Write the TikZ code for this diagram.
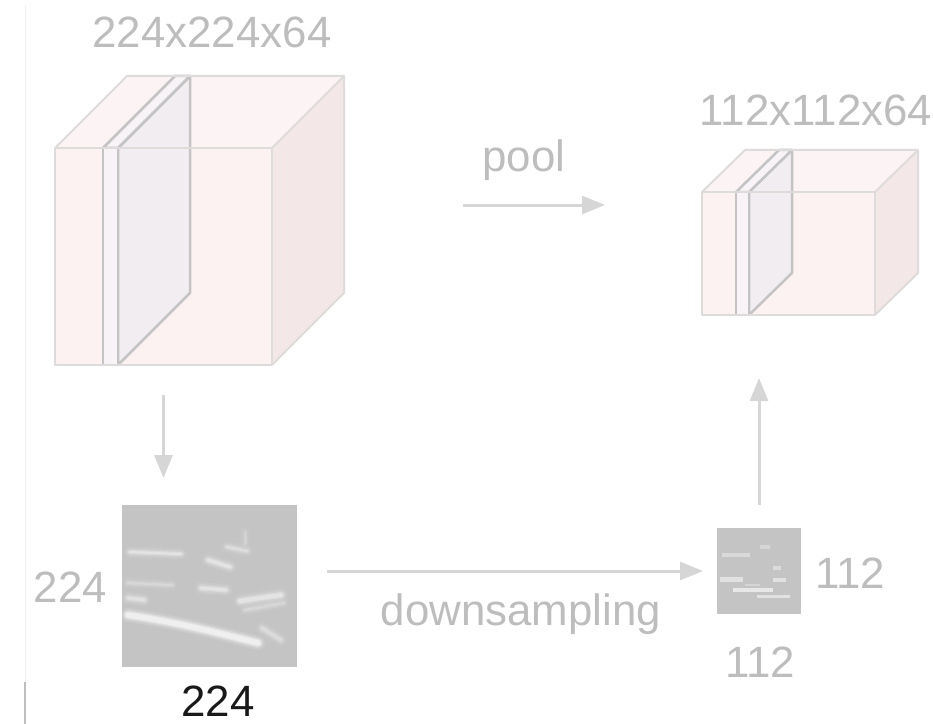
\documentclass[tikz,border=0pt]{standalone}
\usepackage{fontspec}
\setmainfont{Liberation Sans}
\usetikzlibrary{arrows.meta}

\definecolor{labelgrey}{HTML}{BDBDBD}
\definecolor{arrowgrey}{HTML}{D6D6D6}
\definecolor{edgegrey}{HTML}{DEDBDB}
\definecolor{slicegrey}{HTML}{C4C4C4}
\definecolor{facefront}{HTML}{FCF2F2}
\definecolor{facetop}{HTML}{FCF4F4}
\definecolor{faceside}{HTML}{F3E7E7}
\definecolor{slicefront}{HTML}{F7F3F7}
\definecolor{sliceside}{HTML}{EFECF0}
\definecolor{mapgrey}{HTML}{C4C4C4}

\tikzset{
  lbl/.style={text=labelgrey, font=\fontsize{44}{50}\selectfont, inner sep=0pt},
  arr/.style={draw=arrowgrey, line width=3bp, -{Triangle[length=23bp,width=18bp]}},
  cubeedge/.style={draw=edgegrey, line width=2bp, line join=round},
  sliceedge/.style={draw=slicegrey, line width=2.5bp, line join=round},
  facebox/.style={inner sep=0pt, outer sep=0pt},
  fmapbox/.style={fill=mapgrey, inner sep=0pt, outer sep=0pt},
  streak/.style={draw=white, line cap=round},
}

% a blurred light stroke: width, strength, path
\newcommand\softstreak[3]{%
  \draw[streak, line width=#1bp+8bp, opacity=0.08*#2] #3;
  \draw[streak, line width=#1bp+4bp, opacity=0.16*#2] #3;
  \draw[streak, line width=#1bp+1bp, opacity=0.22*#2] #3;
  \draw[streak, line width=#1bp-1bp, opacity=0.25*#2] #3;
}

\begin{document}
\begin{tikzpicture}[x=1bp,y=-1bp]
\useasboundingbox (0,0) rectangle (933,724);

% thin rule at the left margin
\draw[draw=black!6, line width=1bp] (25,5) -- (25,682);
\draw[draw=black!25, line width=1.5bp] (25,682) -- (25,724);

% ---------- 224x224x64 feature volume ----------
\node[facebox, minimum width=217bp, minimum height=217bp] (cubeA) at (163.5,256.5) {};
\fill[facetop]  (55,148) -- (127,76) -- (344,76) -- (272,148) -- cycle;
\fill[faceside] (272,148) -- (344,76) -- (344,293) -- (272,365) -- cycle;
\fill[facefront] (55,148) rectangle (272,365);
% one depth slice
\filldraw[sliceedge, fill=sliceside, fill opacity=0.8] (118,148) -- (190,76) -- (190,293) -- (118,365) -- cycle;
\filldraw[sliceedge, fill=slicefront] (103,148) -- (175,76) -- (190,76) -- (118,148) -- cycle;
\filldraw[sliceedge, fill=slicefront] (103,148) rectangle (118,365);
% visible edges of the volume
\draw[cubeedge] (55,148) rectangle (272,365);
\draw[cubeedge] (55,148) -- (127,76) -- (344,76) -- (272,148);
\draw[cubeedge] (344,76) -- (344,293) -- (272,365);
\node[lbl] (labA) at (212,32) {224x224x64};

% ---------- 112x112x64 feature volume ----------
\node[facebox, minimum width=173bp, minimum height=123bp] (cubeB) at (788.5,253.5) {};
\fill[facetop]  (702,192) -- (745,150) -- (918,150) -- (875,192) -- cycle;
\fill[faceside] (875,192) -- (918,150) -- (918,273) -- (875,315) -- cycle;
\fill[facefront] (702,192) rectangle (875,315);
\filldraw[sliceedge, fill=sliceside, fill opacity=0.8] (749,192) -- (792,150) -- (792,273) -- (749,315) -- cycle;
\filldraw[sliceedge, fill=slicefront] (736,192) -- (779,150) -- (792,150) -- (749,192) -- cycle;
\filldraw[sliceedge, fill=slicefront] (736,192) rectangle (749,315);
\draw[cubeedge] (702,192) rectangle (875,315);
\draw[cubeedge] (702,192) -- (745,150) -- (918,150) -- (875,192);
\draw[cubeedge] (918,150) -- (918,273) -- (875,315);
\node[lbl] (labB) at (816,110) {112x112x64};

% ---------- pooling step ----------
\coordinate (poolstart) at (463,205);
\coordinate (poolend) at (605,205);
\draw[arr] (poolstart) -- (poolend);
\node[lbl, anchor=base] (labpool) at (524,172) {pool};

% ---------- 224x224 activation map ----------
\node[fmapbox, minimum width=175bp, minimum height=162bp] (fmap) at (209.5,586) {};
\begin{scope}
  \clip (fmap.south west) rectangle (fmap.north east);
  \softstreak{3}{1.0}{(130,552) -- (181,554)}
  \softstreak{4}{1.0}{(208,560) -- (230,567)}
  \softstreak{3}{0.8}{(227,547) -- (247,551)}
  \softstreak{3}{0.6}{(128,583) -- (172,585)}
  \softstreak{4}{1.0}{(201,588) -- (226,590)}
  \softstreak{4}{0.9}{(128,598) -- (144,600)}
  \softstreak{5}{1.0}{(240,601) -- (281,595)}
  \softstreak{3}{0.6}{(245,610) -- (284,603)}
  \softstreak{6}{1.6}{(128,615) .. controls (175,622) and (215,632) .. (258,643)}
  \softstreak{4}{0.7}{(262,628) -- (281,640)}
  \softstreak{2}{0.5}{(245,532) -- (245,544)}
\end{scope}
\node[lbl, anchor=east] (labmapL) at (107,587) {224};
\node[text=black!90, font=\fontsize{44}{50}\selectfont, inner sep=0pt] (labmapB) at (218,701) {224};

% ---------- 112x112 downsampled map ----------
\node[fmapbox, minimum width=84bp, minimum height=86bp] (smap) at (759,571) {};
\begin{scope}
  \clip (smap.south west) rectangle (smap.north east);
  \fill[white, opacity=0.35] (722,553) rectangle (750,557);
  \fill[white, opacity=0.4] (773,566) rectangle (781,570);
  \fill[white, opacity=0.5] (773,578) rectangle (786,582);
  \fill[white, opacity=0.5] (720,577) rectangle (743,582);
  \fill[white, opacity=0.6] (733,588) rectangle (773,592);
  \fill[white, opacity=0.5] (757,595) rectangle (790,598);
  \fill[white, opacity=0.3] (760,545) rectangle (770,549);
  \fill[white, opacity=0.3] (745,584) rectangle (760,586);
\end{scope}
\node[lbl] (labsmapR) at (850,573) {112};
\node[lbl] (labsmapB) at (760,662) {112};

% ---------- connectors ----------
\draw[arr, shorten <=30bp, shorten >=27bp] (cubeA.south) -- (cubeA.south |- fmap.north);
\draw[arr, shorten <=30bp, shorten >=14bp] (fmap.east |- smap.west) -- (smap.west);
\node[lbl, anchor=base] (labdown) at (521,625) {downsampling};
\draw[arr, shorten <=23bp, shorten >=63bp] (smap.north) -- (smap.north |- cubeB.south);
\end{tikzpicture}
\end{document}
